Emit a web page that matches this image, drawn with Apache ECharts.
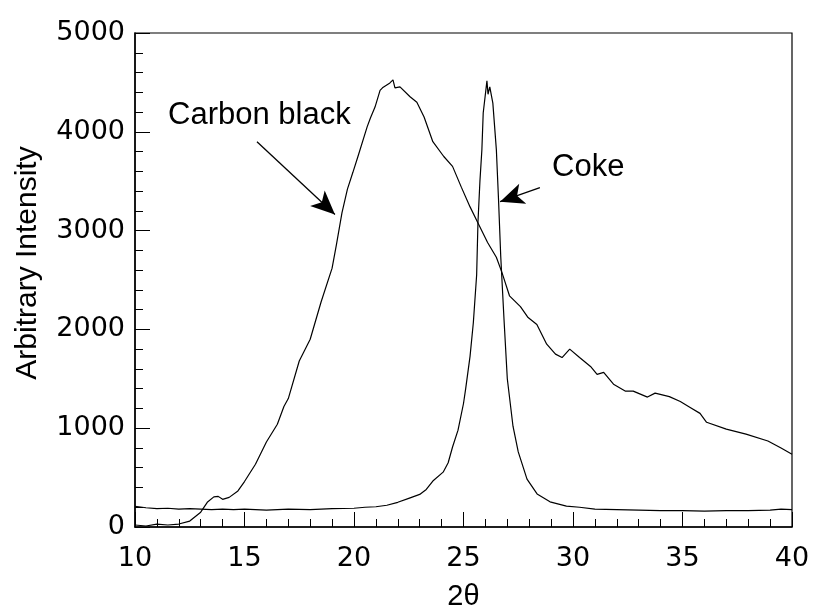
<!DOCTYPE html>
<html>
<head>
<meta charset="utf-8">
<script src="https://cdn.jsdelivr.net/npm/echarts@6/dist/echarts.min.js"></script>
<style>html,body{margin:0;padding:0;background:#fff}#c{width:813px;height:605px}</style>
</head>
<body>
<div id="c"></div>
<script>
// Carbon black diffraction pattern (2θ, intensity)
const carbonX = [10.0,10.5,11.0,11.5,12.0,12.5,13.0,13.3,13.6,13.8,14.0,14.3,14.7,15.0,15.5,16.0,16.5,16.8,17.0,17.5,18.0,18.5,19.0,19.2,19.45,19.7,19.95,20.18,20.6,20.75,20.96,21.19,21.3,21.64,21.78,21.87,22.1,22.56,22.87,23.2,23.6,24.1,24.5,24.9,25.3,25.7,26.1,26.5,26.75,27.1,27.6,27.95,28.35,28.8,29.2,29.5,29.85,30.3,30.8,31.1,31.4,31.85,32.4,32.75,33.4,33.75,34.4,34.9,35.35,35.8,36.1,37.0,37.9,38.9,39.5,40.0];
const carbonY = [20,10,30,20,30,60,150,250,305,310,280,300,365,460,635,860,1040,1220,1300,1680,1900,2280,2620,2860,3180,3420,3590,3750,4050,4140,4250,4420,4445,4495,4525,4445,4455,4355,4300,4150,3900,3750,3650,3440,3240,3060,2880,2730,2580,2340,2230,2120,2050,1850,1750,1715,1800,1715,1625,1545,1565,1445,1375,1375,1315,1355,1320,1270,1210,1150,1060,990,940,870,800,737];

// Coke diffraction pattern (2θ, intensity)
const cokeX = [10.0,10.5,11.0,11.5,12.0,12.5,13.0,13.5,14.0,14.5,15.0,16.0,17.0,18.0,19.0,20.0,20.5,21.0,21.5,22.0,22.5,23.0,23.3,23.6,24.07,24.3,24.5,24.75,25.0,25.1,25.3,25.45,25.6,25.66,25.75,25.84,25.9,26.07,26.12,26.2,26.34,26.5,26.6,26.7,26.85,27.0,27.26,27.5,27.9,28.36,28.95,29.7,30.3,31.0,32.0,33.0,34.0,35.0,36.0,37.0,38.0,39.0,39.5,40.0];
const cokeY = [210,195,185,190,180,185,180,175,180,175,180,170,180,175,185,190,200,205,220,250,290,330,380,465,555,650,810,980,1250,1400,1730,2070,2550,3080,3500,3820,4190,4515,4380,4455,4290,3820,3310,2740,2100,1500,1020,760,485,335,255,212,200,180,175,170,165,165,160,165,165,170,180,175];

// Axis ticks
const xTicks = [10,15,20,25,30,35,40];
const yTicks = [0,1000,2000,3000,4000,5000];

// Annotations (labels and arrows in data coordinates)
const carbonLabel = 'Carbon black';
const cokeLabel = 'Coke';
const carbonArrow = [[15.57, 3899], [19.13, 3162]];
const cokeArrow = [[28.49, 3434], [26.67, 3293]];

const zip = (xs, ys) => xs.map((x, i) => [x, ys[i]]);

const chart = echarts.init(document.getElementById('c'), null, {renderer: 'canvas'});
const tickFont = {fontFamily: 'DejaVu Sans', fontSize: 27, color: '#000', formatter: v => String(v)};

chart.setOption({
  animation: false,
  backgroundColor: '#fff',
  grid: {left: 135, right: 21, top: 33, bottom: 78, show: true, borderColor: '#000', borderWidth: 1.2, containLabel: false, outerBoundsMode: 'none'},
  xAxis: {
    type: 'value', min: xTicks[0], max: xTicks[xTicks.length - 1], interval: 5,
    axisLine: {show: true, lineStyle: {color: '#000', width: 1.5}},
    axisTick: {show: true, inside: true, length: 15, lineStyle: {color: '#000', width: 1}},
    minorTick: {show: true, splitNumber: 5, length: 8, lineStyle: {color: '#000', width: 1}},
    axisLabel: {margin: 18, ...tickFont},
    splitLine: {show: false},
    name: '2θ', nameLocation: 'middle', nameGap: 55,
    nameTextStyle: {fontFamily: 'Liberation Sans', fontSize: 29, color: '#000'}
  },
  yAxis: {
    type: 'value', min: yTicks[0], max: yTicks[yTicks.length - 1], interval: 1000,
    axisLine: {show: true, lineStyle: {color: '#000', width: 1.5}},
    axisTick: {show: true, inside: true, length: 15, lineStyle: {color: '#000', width: 1}},
    minorTick: {show: true, splitNumber: 5, length: 8, lineStyle: {color: '#000', width: 1}},
    axisLabel: {margin: 10, ...tickFont},
    splitLine: {show: false},
    name: 'Arbitrary Intensity', nameLocation: 'middle', nameGap: 92,
    nameTextStyle: {fontFamily: 'Liberation Sans', fontSize: 30, color: '#000', padding: [0, 0, 0, 34]}
  },
  series: [
    {
      name: 'Carbon black', type: 'line', data: zip(carbonX, carbonY),
      showSymbol: false, symbol: 'none', lineStyle: {color: '#000', width: 1.2},
      markLine: {
        silent: true, symbol: ['none', 'arrow'], symbolSize: [16, 24],
        lineStyle: {color: '#000', width: 1.3, type: 'solid'}, label: {show: false},
        data: [[{coord: carbonArrow[0]}, {coord: carbonArrow[1]}]]
      }
    },
    {
      name: 'Coke', type: 'line', data: zip(cokeX, cokeY),
      showSymbol: false, symbol: 'none', lineStyle: {color: '#000', width: 1.2},
      markLine: {
        silent: true, symbol: ['none', 'arrow'], symbolSize: [16, 24],
        lineStyle: {color: '#000', width: 1.3, type: 'solid'}, label: {show: false},
        data: [[{coord: cokeArrow[0]}, {coord: cokeArrow[1]}]]
      }
    }
  ],
  graphic: [
    {type: 'text', left: 168, top: 100, style: {text: carbonLabel, fontFamily: 'Liberation Sans', fontSize: 31, fill: '#000'}},
    {type: 'text', left: 552, top: 152, style: {text: cokeLabel, fontFamily: 'Liberation Sans', fontSize: 31, fill: '#000'}}
  ]
});
</script>
</body>
</html>
